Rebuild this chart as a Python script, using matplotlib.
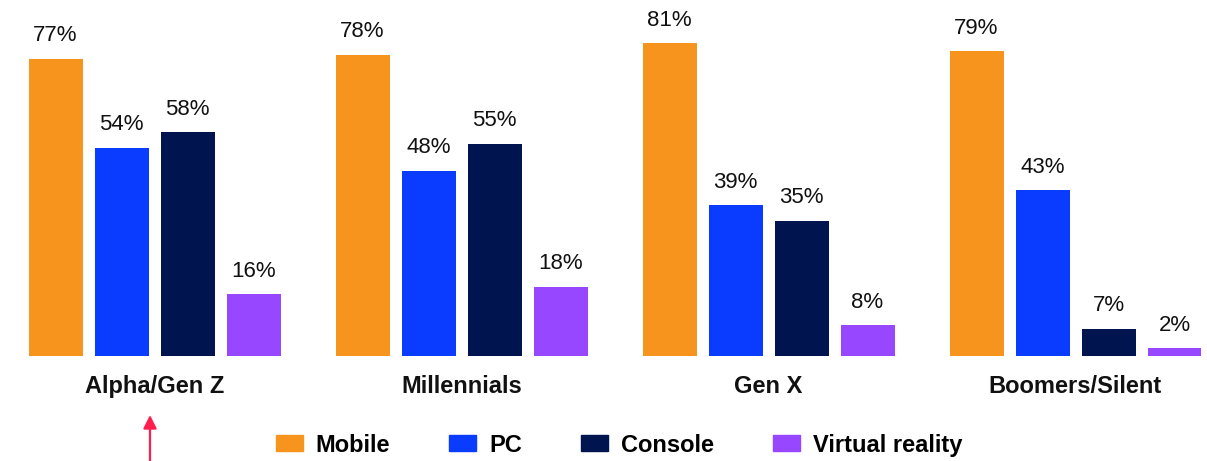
import matplotlib
matplotlib.use("Agg")
import matplotlib.pyplot as plt
import numpy as np
from matplotlib.patches import Patch, FancyArrowPatch

groups = ["Alpha/Gen Z", "Millennials", "Gen X", "Boomers/Silent"]
devices = ["Mobile", "PC", "Console", "Virtual reality"]
mobile = [77, 78, 81, 79]
pc = [54, 48, 39, 43]
console = [58, 55, 35, 7]
vr = [16, 18, 8, 2]

colors = ["#f7941d", "#0a3cff", "#001450", "#9747ff"]

W, H = 1207, 461
fig = plt.figure(figsize=(W / 100, H / 100), dpi=100)
ax = fig.add_axes([29 / W, 105 / H, (1201 - 29) / W, 356 / H])

x = np.arange(len(groups))
bw = 54 / 307
step = 66 / 307
offsets = (np.arange(4) - 1.5) * step

for series, off, c in zip([mobile, pc, console, vr], offsets, colors):
    bars = ax.bar(x + off, series, width=bw, color=c)
    for b, v in zip(bars, series):
        ax.annotate(f"{v}%", (b.get_x() + b.get_width() / 2, v),
                    xytext=(0, 9), textcoords="offset points",
                    ha="center", va="bottom", fontsize=16,
                    family="Liberation Sans", color="#111111")

ax.set_xlim(-125.5 / 307, 3 + 125.5 / 307)
ax.set_ylim(0, 356 / 3.86)
ax.axis("off")

label_font = {"family": "Liberation Sans", "weight": "bold", "size": 17}

for i, g in enumerate(groups):
    ax.annotate(g, (i, 0), xytext=(0, -30), textcoords="offset pixels",
                ha="center", va="center", color="#111111", **label_font)

handles = [Patch(color=c) for c in colors]
fig.legend(handles, devices, loc="center", bbox_to_anchor=(619 / W, 1 - 445 / H),
           ncol=4, frameon=False, handlelength=1.14, handleheight=0.68,
           handletextpad=0.55, columnspacing=2.5, prop=label_font)

# pointer under the first group
arrow = FancyArrowPatch((150 / W, 0.0), (150 / W, 46 / H),
                        transform=fig.transFigure, arrowstyle="-|>",
                        mutation_scale=20, color="#ff1f4f", lw=1.6,
                        shrinkA=0, shrinkB=0)
fig.patches.append(arrow)

fig.savefig("out.png", dpi=100)
